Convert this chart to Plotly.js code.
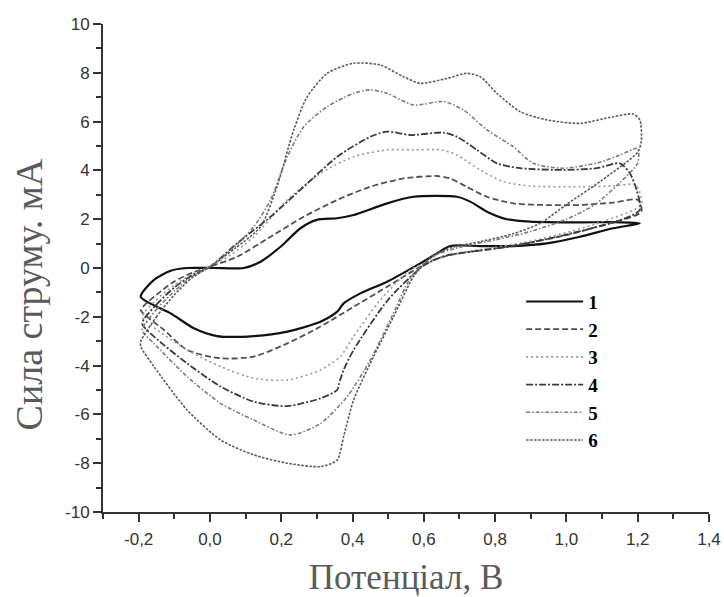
<!DOCTYPE html>
<html>
<head>
<meta charset="utf-8">
<script src="https://cdn.plot.ly/plotly-3.0.1.min.js"></script>
<style>html,body{margin:0;padding:0;background:#fff;}#chart{width:724px;height:597px;}</style>
</head>
<body>
<div id="chart"></div>
<script>
// Potential (V) and current (mA) for each cyclic voltammogram, read along the loop
var potential1 = [-0.194,-0.157,-0.11,-0.064,0.011,0.095,0.142,0.198,0.254,0.30,0.357,0.403,0.497,0.571,0.693,0.73,0.777,0.833,0.898,1.038,1.131,1.206,
  1.131,1.038,0.945,0.851,0.758,0.674,0.637,0.59,0.497,0.422,0.375,0.357,0.31,0.217,0.123,0.02,-0.045,-0.11,-0.194];
var current1 = [-1.18,-0.49,-0.11,0.0,0.0,0.0,0.26,0.87,1.63,1.97,2.04,2.17,2.65,2.92,2.92,2.72,2.31,2.0,1.90,1.87,1.88,1.83,
  1.63,1.28,1.01,0.90,0.90,0.90,0.60,0.19,-0.56,-1.04,-1.45,-1.79,-2.2,-2.61,-2.79,-2.79,-2.47,-1.86,-1.18];

var potential2 = [-0.194,-0.15,-0.1,-0.05,0.0,0.076,0.17,0.263,0.357,0.45,0.543,0.637,0.674,0.72,0.777,0.851,0.945,1.038,1.131,1.201,
  1.21,1.1,1.0,0.9,0.8,0.7,0.64,0.59,0.497,0.403,0.31,0.217,0.123,0.03,-0.064,-0.129,-0.176,-0.194];
var current2 = [-1.72,-1.1,-0.55,-0.2,0.05,0.46,1.28,2.10,2.79,3.33,3.67,3.77,3.67,3.33,2.92,2.65,2.58,2.58,2.68,2.79,
  2.3,1.75,1.35,1.05,0.8,0.6,0.4,0.05,-0.77,-1.59,-2.40,-3.09,-3.63,-3.70,-3.36,-2.54,-2.0,-1.72];

var potential3 = [-0.19,-0.15,-0.1,-0.05,0.0,0.06,0.123,0.217,0.31,0.403,0.497,0.571,0.647,0.693,0.758,0.823,0.898,1.038,1.131,1.195,
  1.21,1.1,1.0,0.9,0.8,0.7,0.62,0.562,0.478,0.403,0.366,0.31,0.217,0.123,0.03,-0.064,-0.148,-0.19];
var current3 = [-2.0,-1.3,-0.7,-0.25,0.05,0.55,1.28,2.79,3.88,4.56,4.84,4.84,4.84,4.63,4.02,3.54,3.36,3.33,3.36,3.4,
  2.6,1.9,1.45,1.1,0.85,0.62,0.3,-0.08,-1.31,-2.81,-3.63,-4.18,-4.59,-4.52,-4.04,-3.36,-2.54,-2.0];

var potential4 = [-0.19,-0.15,-0.1,-0.05,0.0,0.076,0.17,0.263,0.357,0.45,0.497,0.562,0.655,0.693,0.749,0.805,0.87,0.991,1.085,1.15,1.178,1.197,1.206,
  1.15,1.05,0.95,0.85,0.75,0.66,0.6,0.5,0.403,0.375,0.362,0.357,0.31,0.217,0.123,0.03,-0.064,-0.157,-0.19];
var current4 = [-2.27,-1.5,-0.8,-0.3,0.05,1.01,2.10,3.33,4.56,5.38,5.59,5.45,5.55,5.38,4.84,4.29,4.09,4.02,4.09,4.29,3.88,3.2,2.38,
  1.95,1.55,1.2,0.9,0.7,0.5,0.1,-1.3,-3.36,-4.18,-4.75,-5.0,-5.34,-5.66,-5.48,-4.86,-3.91,-2.81,-2.27];

var potential5 = [-0.19,-0.15,-0.1,-0.05,0.0,0.06,0.123,0.17,0.217,0.263,0.329,0.403,0.45,0.497,0.571,0.655,0.711,0.777,0.851,0.907,0.99,1.085,1.15,1.2,
  1.2,1.15,1.08,1.0,0.9,0.8,0.7,0.63,0.565,0.51,0.45,0.385,0.31,0.226,0.123,0.03,-0.064,-0.157,-0.19];
var current5 = [-2.54,-1.7,-0.95,-0.35,0.05,0.75,1.69,2.79,4.56,5.79,6.61,7.16,7.30,7.16,6.68,6.82,6.48,5.66,4.97,4.29,4.09,4.3,4.63,4.9,
  4.3,3.5,2.6,2.0,1.5,1.15,0.85,0.5,-0.36,-2.0,-3.77,-5.27,-6.37,-6.84,-6.23,-5.55,-4.45,-3.09,-2.54];

var potential6 = [-0.194,-0.15,-0.1,-0.05,0.0,0.07,0.142,0.188,0.235,0.273,0.329,0.403,0.478,0.543,0.59,0.665,0.72,0.758,0.805,0.87,0.945,1.038,1.131,1.187,1.206,
  1.21,1.2,1.1,1.0,0.926,0.85,0.758,0.68,0.62,0.571,0.515,0.459,0.403,0.375,0.357,0.31,0.217,0.123,0.03,-0.064,-0.157,-0.194,-0.194];
var current6 = [-3.0,-2.0,-1.1,-0.4,0.05,0.8,1.69,3.33,5.66,7.02,7.98,8.39,8.32,7.84,7.57,7.77,7.98,7.84,7.16,6.41,6.07,5.93,6.2,6.31,6.07,
  5.2,4.75,3.6,2.6,1.83,1.4,1.08,0.85,0.45,-0.36,-2.0,-3.63,-5.41,-6.91,-7.87,-8.14,-8.0,-7.66,-7.05,-5.82,-4.04,-3.22,-3.0];

var seriesNames = ['1','2','3','4','5','6'];
var xTickVals = [-0.2,0.0,0.2,0.4,0.6,0.8,1.0,1.2,1.4];
var xTickText = ['-0,2','0,0','0,2','0,4','0,6','0,8','1,0','1,2','1,4'];
var yTickVals = [-10,-8,-6,-4,-2,0,2,4,6,8,10];
var yTickText = ['-10','-8','-6','-4','-2','0','2','4','6','8','10'];

var xs = [potential1,potential2,potential3,potential4,potential5,potential6];
var ys = [current1,current2,current3,current4,current5,current6];
var styles = [
  {color:'#111111', width:2.2, dash:'solid'},
  {color:'#505050', width:1.8, dash:'6px,3px'},
  {color:'#9a9a9a', width:1.6, dash:'2px,3px'},
  {color:'#3a3a3a', width:1.8, dash:'7px,2px,2px,2px'},
  {color:'#7a7a7a', width:1.6, dash:'4px,2px,1.5px,2px'},
  {color:'#5a5a5a', width:1.6, dash:'2.5px,1.5px'}
];

var traces = [];
for (var i = 0; i < 6; i++) {
  traces.push({
    x: xs[i], y: ys[i], name: seriesNames[i], type: 'scatter', mode: 'lines',
    line: {color: styles[i].color, width: styles[i].width, dash: styles[i].dash, shape: 'spline', smoothing: 0.7},
    hoverinfo: 'skip'
  });
}

var axisCommon = {
  showline: true, linecolor: '#333', linewidth: 2, mirror: false,
  showgrid: false, zeroline: false,
  ticks: 'outside', ticklen: 8, tickwidth: 2, tickcolor: '#333',
  tickfont: {family: 'Liberation Sans, Arial, sans-serif', size: 17, color: '#333'},
  tickmode: 'array'
};

var layout = {
  width: 724, height: 597,
  margin: {l: 102.5, r: 15, t: 24, b: 84.5},
  paper_bgcolor: '#ffffff', plot_bgcolor: '#ffffff',
  showlegend: true,
  legend: {
    x: 0.69, y: 0.47, xanchor: 'left', yanchor: 'top',
    bgcolor: 'rgba(0,0,0,0)', borderwidth: 0, itemwidth: 57,
    font: {family: 'Liberation Serif, Times New Roman, serif', size: 19, color: '#000', weight: 'bold'}
  },
  xaxis: Object.assign({}, axisCommon, {
    range: [-0.3, 1.4], tickvals: xTickVals, ticktext: xTickText,
    ticklabelstandoff: 3,
    minor: {tickmode: 'linear', tick0: -0.3, dtick: 0.1, ticks: 'outside', ticklen: 5, tickwidth: 2, tickcolor: '#333'},
    title: {text: 'Потенціал, В', standoff: 20, font: {family: 'Liberation Serif, Times New Roman, serif', size: 35, color: '#5a5a5a'}}
  }),
  yaxis: Object.assign({}, axisCommon, {
    range: [-10, 10], tickvals: yTickVals, ticktext: yTickText,
    minor: {tickmode: 'linear', tick0: -10, dtick: 1, ticks: 'outside', ticklen: 5, tickwidth: 2, tickcolor: '#333'}
  }),
  annotations: [{
    text: 'Сила струму. мА', xref: 'paper', yref: 'paper', x: -0.1228, y: 0.445,
    xanchor: 'center', yanchor: 'middle', textangle: -90, showarrow: false,
    font: {family: 'Liberation Serif, Times New Roman, serif', size: 38, color: '#5a5a5a'}
  }]
};

Plotly.newPlot('chart', traces, layout, {displayModeBar: false, staticPlot: true});
</script>
</body>
</html>
